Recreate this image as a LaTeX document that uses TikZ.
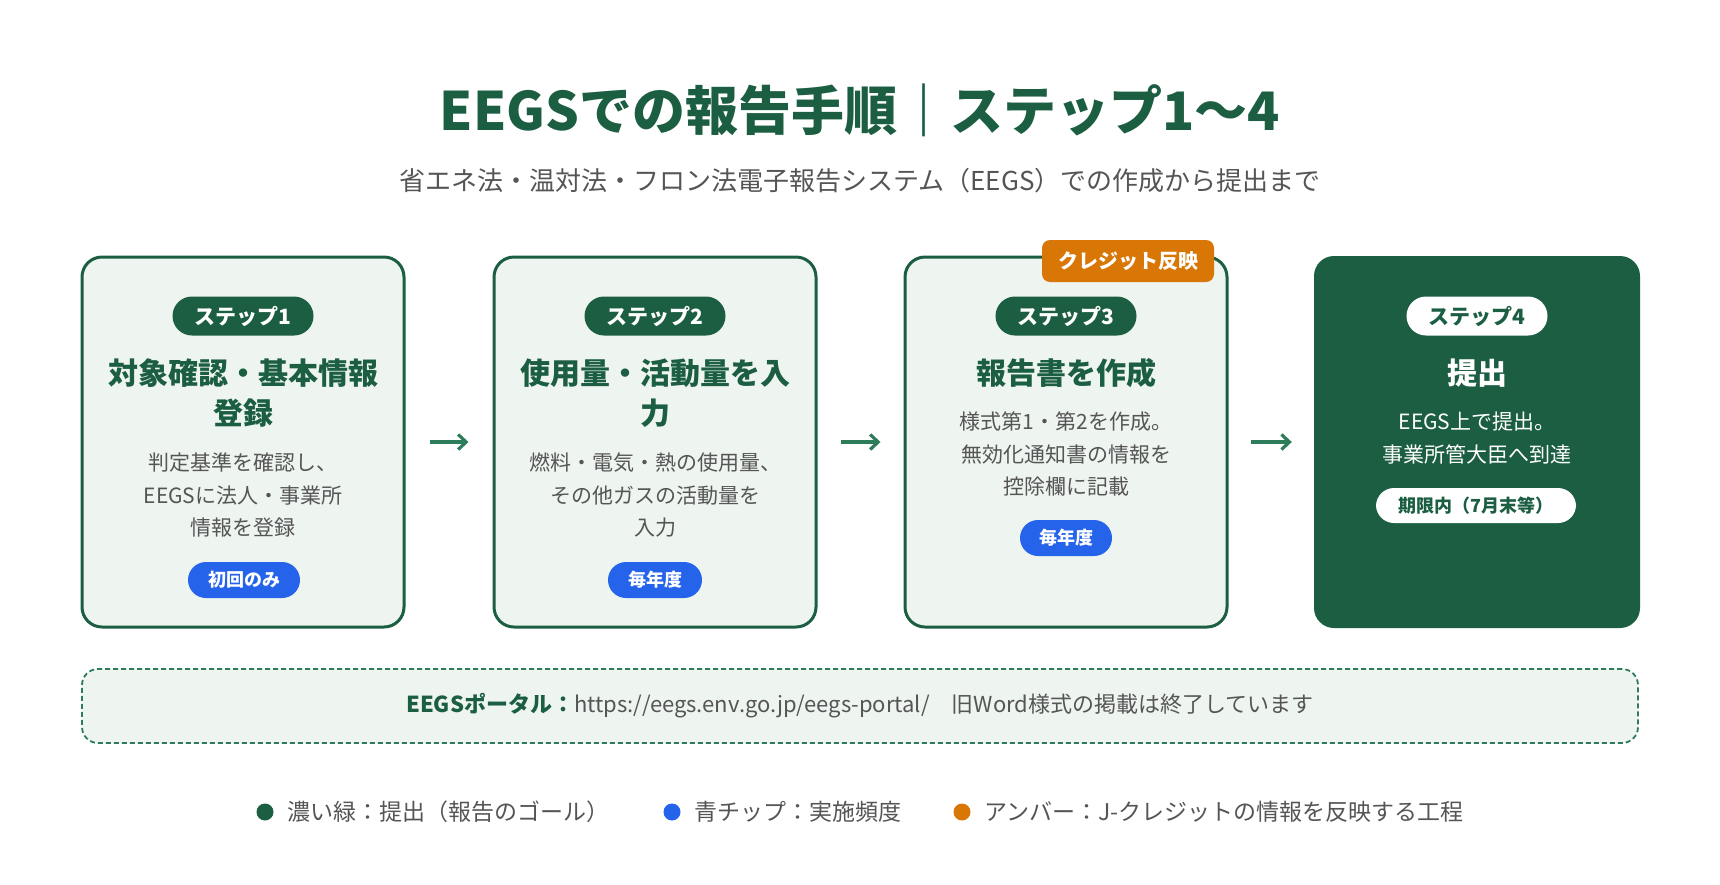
\documentclass[tikz,border=0pt]{standalone}
\usepackage{fontspec}
\setmainfont{Noto Sans CJK JP}
\usetikzlibrary{arrows.meta}
\definecolor{dkgreen}{HTML}{1B5E42}
\definecolor{lightfill}{HTML}{EEF4F0}
\definecolor{arrowgreen}{HTML}{2E7D5A}
\definecolor{chipblue}{HTML}{2563EB}
\definecolor{amber}{HTML}{D97706}
\definecolor{txtgray}{HTML}{555555}
\tikzset{
  stepbox/.style={draw=dkgreen, line width=3pt, fill=lightfill, rounded corners=20pt,
    minimum width=322pt, minimum height=370pt, inner sep=0pt},
  goalbox/.style={fill=dkgreen, rounded corners=20pt,
    minimum width=326pt, minimum height=372pt, inner sep=0pt},
  steppill/.style={fill=dkgreen, text=white, rounded corners=19.5pt,
    minimum width=141pt, minimum height=39pt, inner sep=0pt,
    font=\fontsize{21}{25}\selectfont\bfseries},
  whitepill/.style={steppill, fill=white, text=dkgreen},
  boxtitle/.style={text=dkgreen, align=center, inner sep=0pt,
    font=\fontsize{30}{40}\selectfont\bfseries},
  boxbody/.style={text=txtgray, align=center, inner sep=0pt,
    font=\fontsize{21}{32.5}\selectfont},
  chip/.style={fill=chipblue, text=white, rounded corners=18pt,
    minimum height=36pt, inner sep=0pt, font=\fontsize{18}{22}\selectfont\bfseries},
  flowarrow/.style={draw=arrowgreen, line width=3.2pt,
    -{Straight Barb[length=8pt,width=15pt,line width=3.2pt]}},
  legdot/.style={circle, minimum size=17pt, inner sep=0pt},
  legtext/.style={text=txtgray, anchor=west, inner sep=0pt, font=\fontsize{23}{27}\selectfont},
}
\begin{document}
\begin{tikzpicture}[x=1pt,y=1pt]
\useasboundingbox[fill=white] (0,0) rectangle (1720,-884);

% heading
\node[text=dkgreen, inner sep=0pt, font=\fontsize{53}{63}\selectfont\bfseries] (title) at (860,-110)
  {EEGSでの報告手順｜ステップ1～4};
\node[text=txtgray, inner sep=0pt, font=\fontsize{26}{31}\selectfont] (subtitle) at (860,-181)
  {省エネ法・温対法・フロン法電子報告システム（EEGS）での作成から提出まで};

% step boxes
\node[stepbox] (b1) at (243,-442) {};
\node[stepbox] (b2) at (655,-442) {};
\node[stepbox] (b3) at (1066,-442) {};
\node[goalbox] (b4) at (1477,-442) {};

% step 1
\node[steppill] (p1) at (243,-316) {ステップ1};
\node[boxtitle] (t1) at (243,-393) {対象確認・基本情報\\登録};
\node[boxbody] (d1) at (243,-495) {判定基準を確認し、\\EEGSに法人・事業所\\情報を登録};
\node[chip, minimum width=112pt] (c1) at (244,-580) {初回のみ};

% step 2
\node[steppill] (p2) at (655,-316) {ステップ2};
\node[boxtitle] (t2) at (655,-393) {使用量・活動量を入\\力};
\node[boxbody] (d2) at (655,-495) {燃料・電気・熱の使用量、\\その他ガスの活動量を\\入力};
\node[chip, minimum width=94pt] (c2) at (655,-580) {毎年度};

% step 3
\node[fill=amber, text=white, rounded corners=8pt, minimum width=172pt, minimum height=42pt,
  inner sep=0pt, font=\fontsize{20}{24}\selectfont\bfseries] (tag3) at (1128,-261) {クレジット反映};
\node[steppill] (p3) at (1066,-316) {ステップ3};
\node[boxtitle] (t3) at (1066,-373) {報告書を作成};
\node[boxbody] (d3) at (1066,-454) {様式第1・第2を作成。\\無効化通知書の情報を\\控除欄に記載};
\node[chip, minimum width=92pt] (c3) at (1066,-538) {毎年度};

% step 4
\node[whitepill] (p4) at (1477,-316) {ステップ4};
\node[boxtitle, text=white] (t4) at (1477,-373) {提出};
\node[boxbody, text=white] (d4) at (1477,-438) {EEGS上で提出。\\事業所管大臣へ到達};
\node[chip, fill=white, text=dkgreen, minimum width=200pt, minimum height=35pt] (c4) at (1476,-505.5) {期限内（7月末等）};

% arrows
\draw[flowarrow, shorten <=24pt, shorten >=24pt] (b1.east) -- (b2.west);
\draw[flowarrow, shorten <=23pt, shorten >=23pt] (b2.east) -- (b3.west);
\draw[flowarrow, shorten <=22pt, shorten >=22pt] (b3.east) -- (b4.west);

% portal note
\node[draw=arrowgreen, line width=1.8pt, dash pattern=on 5pt off 3pt, fill=lightfill,
  rounded corners=16pt, minimum width=1556pt, minimum height=74pt, inner sep=0pt] (portal) at (860,-706) {};
\node[inner sep=0pt, font=\fontsize{22}{26}\selectfont] (portaltext) at (860,-706)
  {\textcolor{dkgreen}{\bfseries EEGSポータル：}\textcolor{txtgray}{https://eegs.env.go.jp/eegs-portal/　旧Word様式の掲載は終了しています}};

% legend
\node[legdot, fill=dkgreen] (l1) at (265,-812) {};
\node[legtext] (lt1) at (287,-812) {濃い緑：提出（報告のゴール）};
\node[legdot, fill=chipblue] (l2) at (672,-812) {};
\node[legtext] (lt2) at (694,-812) {青チップ：実施頻度};
\node[legdot, fill=amber] (l3) at (962,-812) {};
\node[legtext] (lt3) at (984,-812) {アンバー：J-クレジットの情報を反映する工程};
\end{tikzpicture}
\end{document}
